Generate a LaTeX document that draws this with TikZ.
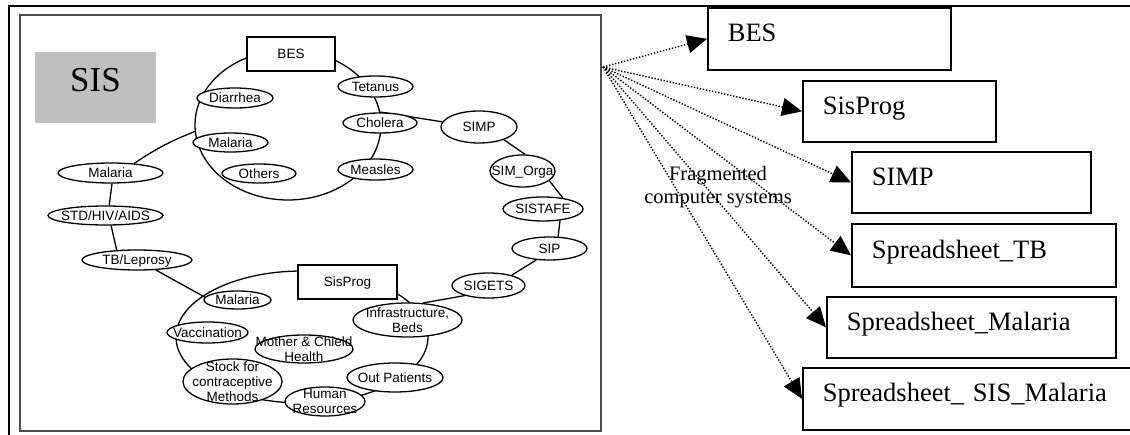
\documentclass[tikz,border=0pt]{standalone}
\usepackage{fontspec}
\setmainfont{Liberation Serif}
\newfontfamily\arialf{Liberation Sans}
\usetikzlibrary{arrows.meta,shapes.geometric}
\pgfdeclarelayer{bg}
\pgfsetlayers{bg,main}
\begin{document}
\begin{tikzpicture}[x=1pt,y=-1pt,
  ell/.style={ellipse,draw,fill=white,line width=1.3pt,inner sep=-40pt,
     font=\arialf\fontsize{13.5}{15}\selectfont,align=center},
  ell1/.style={ell,text height=11pt,text depth=1.5pt},
  sbox/.style={rectangle,draw,fill=white,line width=1.4pt,inner sep=0pt,
     font=\arialf\fontsize{13.5}{15}\selectfont,text height=11pt,text depth=1.5pt},
  ring/.style={ellipse,draw,line width=1.3pt,inner sep=0pt},
  link/.style={line width=1.3pt},
  rbox/.style={rectangle,draw,fill=white,line width=1.7pt,anchor=north west,
     inner xsep=20pt,inner ysep=0pt,align=left,text height=20pt,text depth=14pt,
     font=\fontsize{26.5}{30}\selectfont},
  dotarrow/.style={line width=1.4pt,dash pattern=on 1.4pt off 1.7pt,
     -{Triangle[length=20pt,width=18pt]}},
]
\useasboundingbox (0,0) rectangle (1130,435);
\clip (0,0) rectangle (1130,435);
% outer frame and inner panel
\draw[line width=2.2pt] (9,6) rectangle (1145,450);
\draw[line width=1.6pt,black!70] (20,15) rectangle (601,431);
\node[fill=black!25,minimum width=121pt,minimum height=71pt,inner sep=0pt,
  text height=24pt,text depth=15pt,font=\fontsize{35}{38}\selectfont] (sisbox) at (95.5,87.5) {SIS};
% rings
\node[ring,minimum width=186pt,minimum height=150pt] (besring) at (288,125) {};
\node[ring,minimum width=252pt,minimum height=132pt] (progring) at (302,337) {};
% BES cluster
\node[sbox,minimum width=88pt,minimum height=34pt] (besbox) at (291,54) {BES};
\node[ell1,minimum width=76pt,minimum height=20pt] (diarrhea) at (235,98) {Diarrhea};
\node[ell1,minimum width=75pt,minimum height=19pt] (malB) at (230.5,142.5) {Malaria};
\node[ell1,minimum width=74pt,minimum height=19pt] (others) at (259,173.5) {Others};
\node[ell1,minimum width=75pt,minimum height=21pt] (tetanus) at (375.5,86.5) {Tetanus};
\node[ell1,minimum width=74pt,minimum height=20pt] (cholera) at (380,123) {Cholera};
\node[ell1,minimum width=75pt,minimum height=21pt] (measles) at (375.5,169.5) {Measles};
% left chain
\node[ell1,minimum width=105pt,minimum height=20pt] (malO) at (110.5,173) {Malaria};
\node[ell1,minimum width=115pt,minimum height=19pt] (std) at (105.5,215.5) {STD/HIV/AIDS};
\node[ell1,minimum width=110pt,minimum height=20pt] (tb) at (137,260) {TB/Leprosy};
% right chain
\node[ell1,minimum width=76pt,minimum height=32pt] (simp) at (479,127) {SIMP};
\node[ell1,minimum width=65pt,minimum height=32pt] (simorga) at (522.5,171) {SIM\_Orga};
\node[ell1,minimum width=80pt,minimum height=24pt] (sistafe) at (543,209) {SISTAFE};
\node[ell1,minimum width=75pt,minimum height=23pt] (sip) at (549.5,248.5) {SIP};
\node[ell1,minimum width=73pt,minimum height=25pt] (sigets) at (488.5,285.5) {SIGETS};
% SisProg cluster
\node[sbox,minimum width=99pt,minimum height=34pt] (progbox) at (347.5,282) {SisProg};
\node[ell1,minimum width=67pt,minimum height=18pt] (malP) at (237.5,300) {Malaria};
\node[ell1,minimum width=81pt,minimum height=21pt] (vacc) at (207.5,332.5) {Vaccination};
\node[ell,minimum width=98pt,minimum height=28pt] (mch) at (304,349) {Mother \& Chield\\Health};
\node[ell,minimum width=99pt,minimum height=45pt] (stock) at (232.5,381.5) {Stock for\\contraceptive\\Methods};
\node[ell,minimum width=80pt,minimum height=29pt] (hr) at (325,401.5) {Human\\Resources};
\node[ell,minimum width=109pt,minimum height=34pt] (infra) at (407.5,320) {Infrastructure,\\Beds};
\node[ell1,minimum width=96pt,minimum height=29pt] (outp) at (395,377.5) {Out Patients};
% connectors behind nodes
\begin{pgfonlayer}{bg}
\draw[link] (malO.22) to[bend left=6] (besring.184);
\draw[link] (malO.-82) -- (std.70);
\draw[link] (std.-61) -- (tb.154);
\draw[link] (tb.-28) -- (malP.175);
\draw[link] (besring.8) -- (simp.172);
\draw[link] (simp.-27) -- (simorga.81);
\draw[link] (simorga.-20) -- (sistafe.29);
\draw[link] (sistafe.-34) -- (sip.54);
\draw[link] (sip.221) -- (sigets.24);
\draw[link] (sigets.203) -- (infra.48);
\end{pgfonlayer}
% right side boxes
\coordinate (src) at (603,67);
\node[rbox,text width=203pt,minimum height=62pt] (rbes) at (707,7) {BES};
\node[rbox,text width=153pt,minimum height=61pt] (rprog) at (802,80) {SisProg};
\node[rbox,text width=199pt,minimum height=61pt] (rsimp) at (851,151) {SIMP};
\node[rbox,text width=224pt,minimum height=63pt] (rtb) at (851,223) {Spreadsheet\_TB};
\node[rbox,text width=249pt,minimum height=61pt] (rmal) at (826,296) {Spreadsheet\_Malaria};
\node[rbox,text width=320pt,minimum height=62pt] (rsis) at (802,367) {Spreadsheet\_ SIS\_Malaria};
\foreach \t in {rbes,rprog,rsimp,rtb,rmal,rsis}
  \draw[dotarrow] (src) -- (\t.west);
\node[font=\fontsize{20.5}{23}\selectfont,align=center,inner sep=0pt] (frag) at (718,187) {Fragmented\\computer systems};
\end{tikzpicture}
\end{document}
